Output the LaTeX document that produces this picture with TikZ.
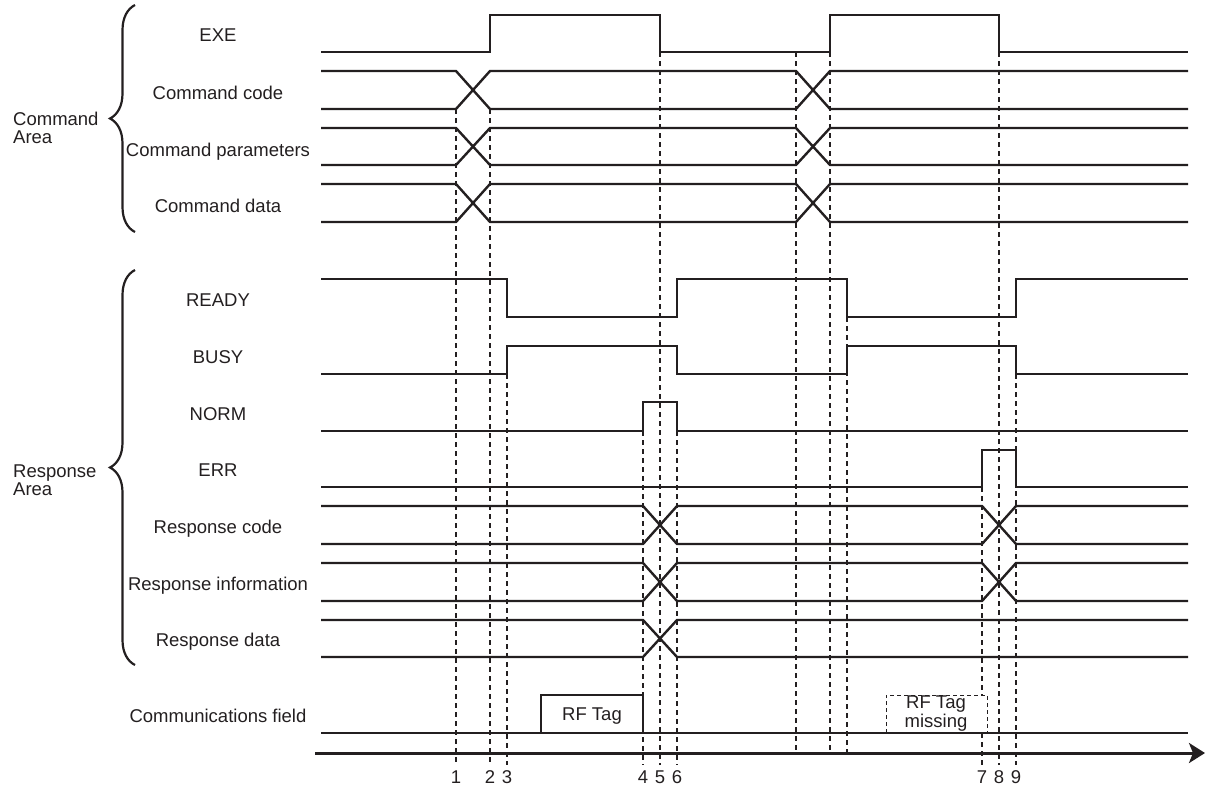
\documentclass[tikz,border=0pt]{standalone}
\usepackage{fontspec}
\setmainfont{Liberation Sans}
\usetikzlibrary{decorations.pathreplacing,arrows.meta}
\definecolor{ink}{HTML}{231F20}
\tikzset{
  sig/.style={line width=2.4pt, draw=ink, line join=miter},
  guide/.style={line width=1.1pt, draw=ink, dash pattern=on 5pt off 4pt},
  lbl/.style={anchor=base, inner sep=0pt, text=ink, font=\fontsize{18.5}{18}\selectfont},
  curly/.style={line width=2.2pt, draw=ink, decorate, decoration={brace, amplitude=25pt, aspect=0.5}},
}
\begin{document}
\begin{tikzpicture}[x=1pt, y=-1pt]
\useasboundingbox (0,0) rectangle (1206,785);
% guide lines
\draw[guide] (456,109) -- (456,765);
\draw[guide] (490,109) -- (490,765);
\draw[guide] (507,374) -- (507,765);
\draw[guide] (643,431) -- (643,765);
\draw[guide] (660,52) -- (660,765);
\draw[guide] (677,431) -- (677,765);
\draw[guide] (796,52) -- (796,753);
\draw[guide] (830,52) -- (830,753);
\draw[guide] (847,317) -- (847,753);
\draw[guide] (982,487) -- (982,695);
\draw[guide] (982,733) -- (982,765);
\draw[guide] (999,52) -- (999,765);
\draw[guide] (1016,374) -- (1016,765);
% EXE
\draw[sig] (321,52) -- (490,52) -- (490,15) -- (660,15) -- (660,52) -- (830,52) -- (830,15) -- (999,15) -- (999,52) -- (1188,52);
% Command code / parameters / data
\foreach \a/\b in {71/109, 128/165, 184/222}{
  \draw[sig] (321,\a) -- (456,\a) -- (490,\b) -- (796,\b) -- (830,\a) -- (1188,\a);
  \draw[sig] (321,\b) -- (456,\b) -- (490,\a) -- (796,\a) -- (830,\b) -- (1188,\b);
}
% READY
\draw[sig] (321,279) -- (507,279) -- (507,317) -- (677,317) -- (677,279) -- (847,279) -- (847,317) -- (1016,317) -- (1016,279) -- (1188,279);
% BUSY
\draw[sig] (321,374) -- (507,374) -- (507,346) -- (677,346) -- (677,374) -- (847,374) -- (847,346) -- (1016,346) -- (1016,374) -- (1188,374);
% NORM
\draw[sig] (321,431) -- (643,431) -- (643,402) -- (677,402) -- (677,431) -- (1188,431);
% ERR
\draw[sig] (321,487) -- (982,487) -- (982,450) -- (1016,450) -- (1016,487) -- (1188,487);
% Response code / information
\foreach \a/\b in {506/544, 563/601}{
  \draw[sig] (321,\a) -- (643,\a) -- (677,\b) -- (982,\b) -- (1016,\a) -- (1188,\a);
  \draw[sig] (321,\b) -- (643,\b) -- (677,\a) -- (982,\a) -- (1016,\b) -- (1188,\b);
}
% Response data
\draw[sig] (321,620) -- (643,620) -- (677,657) -- (1188,657);
\draw[sig] (321,657) -- (643,657) -- (677,620) -- (1188,620);
% Communications field
\draw[sig] (321,733) -- (1188,733);
\draw[sig] (541,733) -- (541,695) -- (643,695) -- (643,733);
\node[lbl] (rftag) at (592,720) {RF Tag};
\draw[guide, line width=1pt, dash pattern=on 4pt off 3pt] (886,733) -- (886,695) -- (987,695) -- (987,733);
\node[lbl, align=center, font=\fontsize{18.5}{16}\selectfont] (rfmiss) at (936,727) {RF Tag\\missing};
% time axis
\draw[line width=3pt, draw=ink, -{Stealth[length=16pt, width=20pt, inset=4pt]}] (315,753) -- (1205,753);
% time labels
\foreach \x/\n in {456/1, 490/2, 507/3, 643/4, 660/5, 677/6, 982/7, 999/8, 1016/9}{
  \node[lbl] (t\n) at (\x,783) {\n};
}
% signal labels
\node[lbl] (exe) at (218,41.5) {EXE};
\node[lbl] (ccode) at (218,99) {Command code};
\node[lbl] (cpar) at (218,156) {Command parameters};
\node[lbl] (cdata) at (218,212.5) {Command data};
\node[lbl] (ready) at (218,306.5) {READY};
\node[lbl] (busy) at (218,363) {BUSY};
\node[lbl] (norm) at (218,420) {NORM};
\node[lbl] (err) at (218,476.5) {ERR};
\node[lbl] (rcode) at (218,533) {Response code};
\node[lbl] (rinfo) at (218,590) {Response information};
\node[lbl] (rdata) at (218,646.5) {Response data};
\node[lbl] (comm) at (218,722) {Communications field};
% area labels
\node[lbl, anchor=base west, align=left] (carea) at (13,143) {Command\\Area};
\node[lbl, anchor=base west, align=left] (rarea) at (13,495) {Response\\Area};
% braces
\draw[curly] (135,232) -- (135,5);
\draw[curly] (135,665) -- (135,270);
\end{tikzpicture}
\end{document}
